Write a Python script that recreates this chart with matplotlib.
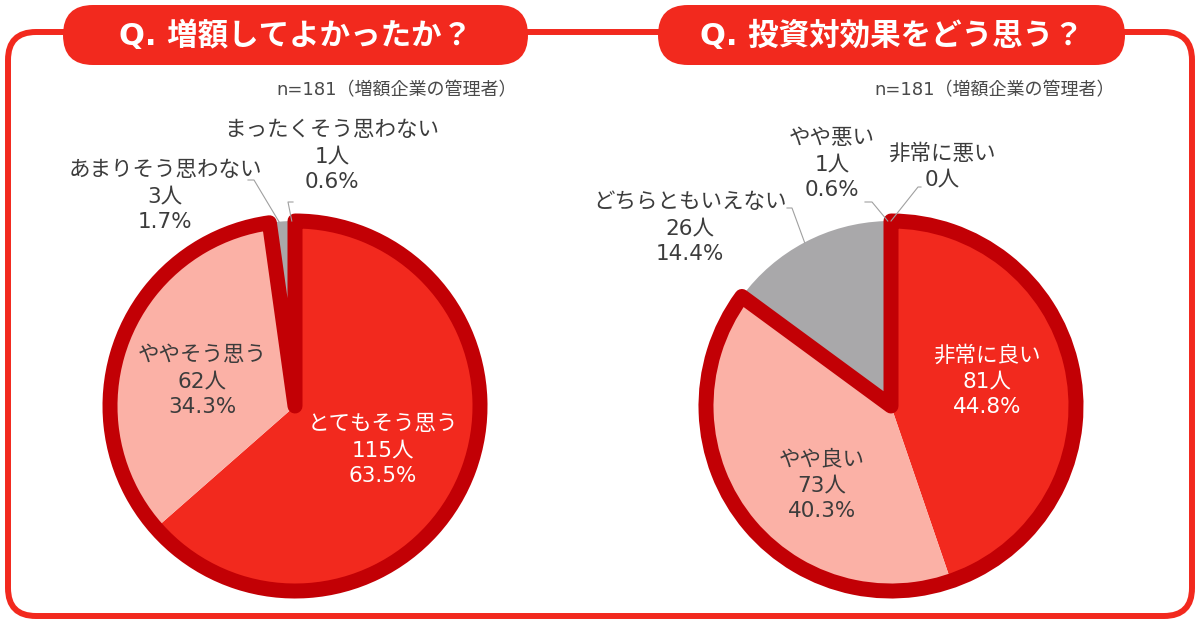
import matplotlib
matplotlib.use("Agg")
import matplotlib.pyplot as plt
import numpy as np
from matplotlib.patches import FancyBboxPatch, Wedge
from matplotlib.lines import Line2D

# Latin from DejaVu (wide digits like the original), Japanese from Noto CJK
plt.rcParams['font.family'] = ['DejaVu Sans', 'Noto Sans CJK JP']

# --- data ---
q1_title = "Q. 増額してよかったか？"
q1_labels = ["とてもそう思う", "ややそう思う", "あまりそう思わない", "まったくそう思わない"]
q1_counts = [115, 62, 3, 1]
q1_pcts = [63.5, 34.3, 1.7, 0.6]

q2_title = "Q. 投資対効果をどう思う？"
q2_labels = ["非常に良い", "やや良い", "どちらともいえない", "やや悪い", "非常に悪い"]
q2_counts = [81, 73, 26, 1, 0]
q2_pcts = [44.8, 40.3, 14.4, 0.6, 0.0]

note = "n=181（増額企業の管理者）"

# --- style ---
W, H = 1200, 620
RED = '#F2291E'
DARK = '#C20005'
PINK = '#FBB1A6'
TXT = '#3C3C3C'
LEAD = '#A0A0A0'
q1_colors = [RED, PINK, '#A9A8AA', '#D2D2D2']
q2_colors = [RED, PINK, '#A9A8AA', '#D9D9D9', '#EEEEEE']

fig = plt.figure(figsize=(W / 100, H / 100), dpi=100)
bg = fig.add_axes([0, 0, 1, 1])
bg.set_xlim(0, W)
bg.set_ylim(H, 0)
bg.axis('off')

# outer box and title pills
bg.add_patch(FancyBboxPatch((8, 32), 1184, 584, boxstyle="round,pad=0,rounding_size=28",
                            facecolor='white', edgecolor=RED, linewidth=4.3))
for x0, x1, t in [(63, 528, q1_title), (658, 1125, q2_title)]:
    bg.add_patch(FancyBboxPatch((x0, 5), x1 - x0, 60, boxstyle="round,pad=0,rounding_size=30",
                                facecolor=RED, edgecolor='none'))
    bg.text((x0 + x1) / 2, 36, t, ha='center', va='center', color='white',
            fontsize=22, fontweight='bold')

bg.text(517, 90, note, ha='right', va='center', color='#4A4A4A', fontsize=13)
bg.text(1115, 90, note, ha='right', va='center', color='#4A4A4A', fontsize=13)


def draw_pie(cx, cy, r, counts, colors, n_pos):
    ax = fig.add_axes([(cx - r) / W, (H - cy - r) / H, 2 * r / W, 2 * r / H])
    wedges, _ = ax.pie(counts, colors=colors, startangle=90, counterclock=False,
                       radius=1, wedgeprops=dict(linewidth=0))
    ax.set_xlim(-1, 1)
    ax.set_ylim(-1, 1)
    frac = sum(counts[:n_pos]) / sum(counts)
    ax.add_patch(Wedge((0, 0), 1, 90 - 360 * frac, 90, facecolor='none', edgecolor=DARK,
                       linewidth=10.8, joinstyle='round', clip_on=False))
    ax.axis('off')
    return ax, wedges


def label_text(lab, cnt, pct):
    if cnt == 0:
        return f"{lab}\n{cnt}人"
    return f"{lab}\n{cnt}人\n{pct}%"


def leader(ax, wedge, elbow):
    mid = np.deg2rad((wedge.theta1 + wedge.theta2) / 2)
    disp = ax.transData.transform((np.cos(mid), np.sin(mid)))
    ex, ey = bg.transData.inverted().transform(disp)
    (x0, y0), (x1, y1) = elbow
    fig.add_artist(Line2D([x0, x1, ex], [y0, y1, ey], transform=bg.transData,
                          color=LEAD, linewidth=0.8))


ax1, w1 = draw_pie(295, 406, 185, q1_counts, q1_colors, 2)
ax2, w2 = draw_pie(891, 406, 185, q2_counts, q2_colors, 2)

# label positions (pixel centres) and colours
q1_pos = [(383, 450, 'white'), (202, 381, TXT), (165, 196, TXT), (332, 156, TXT)]
q2_pos = [(987, 381, 'white'), (822, 485, TXT), (690, 228, TXT), (832, 164, TXT), (942, 166, TXT)]

for labs, cnts, pcts, pos in [(q1_labels, q1_counts, q1_pcts, q1_pos),
                              (q2_labels, q2_counts, q2_pcts, q2_pos)]:
    for lab, c, p, (x, y, col) in zip(labs, cnts, pcts, pos):
        fig.text(x, y, label_text(lab, c, p), transform=bg.transData, ha='center', va='center',
                 color=col, fontsize=15.5, linespacing=1.35)

leader(ax1, w1[2], [(248, 180), (254, 180)])
leader(ax1, w1[3], [(293, 202), (288, 202)])
leader(ax2, w2[2], [(787, 208), (792, 208)])
leader(ax2, w2[3], [(865, 202), (872, 202)])
leader(ax2, w2[4], [(921, 187), (918, 187)])

fig.savefig("out.png", dpi=100)
